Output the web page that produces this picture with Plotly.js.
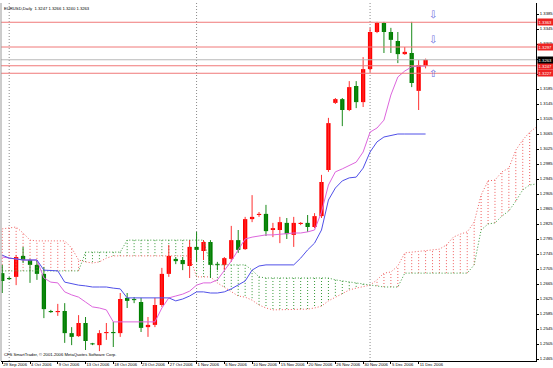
<!DOCTYPE html>
<html><head><meta charset="utf-8">
<script src="https://cdn.plot.ly/plotly-3.0.1.min.js"></script>
<style>html,body{margin:0;padding:0;background:#fff;}#chart{width:553px;height:368px;}</style>
</head><body><div id="chart"></div>
<script>
// ---- data (EURUSD daily) ----
const openP  = [1.2694,1.2681,1.2684,1.2740,1.2729,1.2716,1.2692,1.2593,1.2590,1.2593,
                1.2534,1.2526,1.2561,1.2506,1.2502,1.2534,1.2537,1.2534,1.2628,1.2624,
                1.2617,1.2550,1.2556,1.2609,1.2692,1.2732,1.2729,1.2713,1.2764,1.2753,
                1.2777,1.2718,1.2716,1.2732,1.2782,1.2758,1.2838,1.2849,1.2852,1.2809,
                1.2809,1.2828,1.2796,1.2825,1.2828,1.2817,1.2846,1.2969,1.3148,1.3158,
                1.3129,1.3193,1.3150,1.3238,1.3337,1.3361,1.3337,1.3313,1.3278,1.3281,
                1.3180,1.3247];
const highP  = [1.2716,1.2684,1.2742,1.2764,1.2732,1.2729,1.2710,1.2596,1.2612,1.2614,
                1.2550,1.2582,1.2577,1.2508,1.2542,1.2561,1.2564,1.2641,1.2641,1.2630,
                1.2628,1.2577,1.2628,1.2708,1.2769,1.2737,1.2737,1.2782,1.2804,1.2782,
                1.2782,1.2724,1.2737,1.2820,1.2809,1.2844,1.2902,1.2857,1.2876,1.2828,
                1.2844,1.2841,1.2844,1.2830,1.2849,1.2854,1.2956,1.3108,1.3161,1.3161,
                1.3206,1.3206,1.3270,1.3348,1.3364,1.3364,1.3348,1.3337,1.3297,1.3364,
                1.3262,1.3266];
const lowP   = [1.2641,1.2676,1.2662,1.2721,1.2668,1.2676,1.2574,1.2588,1.2580,1.2508,
                1.2502,1.2524,1.2489,1.2502,1.2486,1.2516,1.2497,1.2524,1.2601,1.2614,
                1.2537,1.2524,1.2550,1.2604,1.2684,1.2718,1.2702,1.2681,1.2724,1.2729,
                1.2681,1.2702,1.2702,1.2724,1.2748,1.2756,1.2830,1.2844,1.2793,1.2790,
                1.2774,1.2785,1.2764,1.2822,1.2804,1.2814,1.2841,1.2964,1.3145,1.3086,
                1.3126,1.3134,1.3137,1.3230,1.3334,1.3281,1.3281,1.3254,1.3276,1.3190,
                1.3129,1.3240];
const closeP = [1.2673,1.2678,1.2737,1.2729,1.2716,1.2692,1.2598,1.2590,1.2593,1.2534,
                1.2524,1.2561,1.2513,1.2504,1.2534,1.2537,1.2534,1.2625,1.2620,1.2622,
                1.2548,1.2556,1.2609,1.2692,1.2740,1.2726,1.2718,1.2764,1.2756,1.2777,
                1.2716,1.2716,1.2734,1.2782,1.2756,1.2838,1.2844,1.2852,1.2806,1.2814,
                1.2830,1.2798,1.2828,1.2828,1.2817,1.2846,1.2937,1.3094,1.3158,1.3129,
                1.3190,1.3150,1.3238,1.3337,1.3361,1.3337,1.3316,1.3278,1.3284,1.3201,
                1.3249,1.3263];
const tenkan = [1.2737,1.2734,1.2732,1.2729,1.2729,1.2729,1.2681,1.2670,1.2668,1.2644,
                1.2636,1.2630,1.2617,1.2604,1.2601,1.2596,1.2564,1.2564,1.2564,1.2564,
                1.2564,1.2564,1.2564,1.2601,1.2628,1.2633,1.2638,1.2646,1.2662,1.2668,
                1.2668,1.2676,1.2702,1.2726,1.2756,1.2785,1.2790,1.2793,1.2796,1.2796,
                1.2798,1.2801,1.2801,1.2801,1.2804,1.2809,1.2857,1.2929,1.2964,1.2972,
                1.2982,1.2990,1.3017,1.3070,1.3081,1.3102,1.3169,1.3217,1.3233,1.3244,
                1.3246,1.3246];
const kijun  = [1.2742,1.2734,1.2732,1.2729,1.2729,1.2729,1.2702,1.2700,1.2700,1.2670,
                1.2665,1.2662,1.2660,1.2657,1.2657,1.2657,1.2654,1.2652,1.2628,1.2628,
                1.2628,1.2628,1.2628,1.2628,1.2628,1.2620,1.2625,1.2633,1.2644,1.2644,
                1.2641,1.2641,1.2644,1.2652,1.2662,1.2673,1.2702,1.2713,1.2716,1.2716,
                1.2716,1.2716,1.2716,1.2734,1.2756,1.2774,1.2809,1.2889,1.2921,1.2940,
                1.2948,1.2950,1.2974,1.3017,1.3044,1.3057,1.3060,1.3065,1.3065,1.3065,
                1.3065,1.3065];
// cloud spans (bars 0..77, extending past the last candle)
const spanRed   = [1.2812,1.2814,1.2817,1.2801,1.2782,1.2780,1.2780,1.2780,1.2780,1.2780,
                   1.2761,1.2729,1.2724,1.2721,1.2724,1.2734,1.2740,1.2740,1.2740,1.2740,
                   1.2740,1.2740,1.2740,1.2740,1.2740,1.2740,1.2740,1.2740,1.2684,1.2684,
                   1.2684,1.2668,1.2657,1.2644,1.2633,1.2630,1.2622,1.2609,1.2601,1.2596,
                   1.2596,1.2596,1.2596,1.2596,1.2598,1.2601,1.2606,1.2620,1.2630,1.2638,
                   1.2649,1.2654,1.2657,1.2662,1.2676,1.2694,1.2697,1.2713,1.2748,1.2750,
                   1.2750,1.2753,1.2756,1.2758,1.2769,1.2790,1.2798,1.2804,1.2830,1.2902,
                   1.2940,1.2942,1.2964,1.2974,1.3022,1.3049,1.3070,1.3084];
const spanGreen = [1.2700,1.2700,1.2700,1.2700,1.2700,1.2700,1.2700,1.2700,1.2700,1.2700,
                   1.2700,1.2700,1.2750,1.2750,1.2750,1.2750,1.2750,1.2750,1.2782,1.2782,
                   1.2782,1.2782,1.2782,1.2782,1.2782,1.2782,1.2782,1.2782,1.2782,1.2782,
                   1.2716,1.2716,1.2716,1.2716,1.2716,1.2716,1.2702,1.2684,1.2681,1.2681,
                   1.2681,1.2681,1.2681,1.2681,1.2681,1.2681,1.2681,1.2681,1.2676,1.2673,
                   1.2670,1.2668,1.2665,1.2662,1.2660,1.2657,1.2657,1.2657,1.2694,1.2694,
                   1.2694,1.2694,1.2694,1.2694,1.2694,1.2694,1.2694,1.2694,1.2716,1.2809,
                   1.2825,1.2828,1.2846,1.2860,1.2886,1.2916,1.2929,1.2932];
const dateLabels = ['29 Sep 2006','4 Oct 2006','9 Oct 2006','13 Oct 2006','18 Oct 2006','23 Oct 2006',
                    '27 Oct 2006','1 Nov 2006','6 Nov 2006','10 Nov 2006','15 Nov 2006','20 Nov 2006',
                    '26 Nov 2006','30 Nov 2006','5 Dec 2006','11 Dec 2006'];
const dateLabelBars = [0,4,8,12,16,20,24,28,32,36,40,44,48,52,56,60];
const separatorBars = [1,28,53];
const priceTicks = [1.2465,1.2505,1.2545,1.2585,1.2625,1.2665,1.2705,1.2745,1.2785,1.2825,1.2865,1.2905,
                    1.2945,1.2985,1.3025,1.3065,1.3105,1.3145,1.3185,1.3225,1.3265,1.3305,1.3345,1.3385];
const levelLines = [1.3363,1.3297,1.3247,1.3227];
const bidPrice = 1.3263;
const arrowsDown = [1.3363,1.3297];
const arrowsUp = [1.3247];
const arrowBar = 62;
const titleText = 'EURUSD,Daily  1.3247 1.3266 1.3240 1.3263';
const copyText = 'CFS SmartTrader, \u00a9 2001-2006 MetaQuotes Software Corp.';

// ---- build traces ----
const FONT = 'Liberation Sans, Arial, sans-serif';
const idx = openP.map((_, i) => i);
const RED = '#ff0000', GREEN = '#008000';
const CRED = '#f06060', CGREEN = '#3a9a3a';

const hatchR = {x: [], y: []}, hatchG = {x: [], y: []};
spanRed.forEach((r, i) => {
  const g = spanGreen[i];
  const t = r >= g ? hatchR : hatchG;
  t.x.push(i, i, null); t.y.push(g, r, null);
});
const cloudX = spanRed.map((_, i) => i);

const wickUp = {x: [], y: []}, wickDn = {x: [], y: []};
const bodyBase = [], bodyH = [], bodyCol = [];
idx.forEach(i => {
  const up = closeP[i] >= openP[i];
  const w = up ? wickUp : wickDn;
  w.x.push(i, i, null); w.y.push(lowP[i], highP[i], null);
  const lo = Math.min(openP[i], closeP[i]);
  const h = Math.max(Math.abs(closeP[i] - openP[i]), 0.00028);
  bodyBase.push(lo); bodyH.push(h); bodyCol.push(up ? RED : GREEN);
});

const traces = [
  {type: 'scatter', mode: 'lines', x: hatchR.x, y: hatchR.y, line: {color: CRED, width: 1, dash: '1px,2px'}, hoverinfo: 'skip', connectgaps: false},
  {type: 'scatter', mode: 'lines', x: hatchG.x, y: hatchG.y, line: {color: CGREEN, width: 1, dash: '1px,2px'}, hoverinfo: 'skip', connectgaps: false},
  {type: 'scatter', mode: 'lines', x: cloudX, y: spanRed, line: {color: CRED, width: 1, dash: '1px,2px'}, hoverinfo: 'skip'},
  {type: 'scatter', mode: 'lines', x: cloudX, y: spanGreen, line: {color: CGREEN, width: 1, dash: '1px,2px'}, hoverinfo: 'skip'},
  {type: 'scatter', mode: 'lines', x: wickUp.x, y: wickUp.y, line: {color: '#ff3030', width: 1}, hoverinfo: 'skip', connectgaps: false},
  {type: 'scatter', mode: 'lines', x: wickDn.x, y: wickDn.y, line: {color: '#1a8a1a', width: 1}, hoverinfo: 'skip', connectgaps: false},
  {type: 'bar', x: idx, y: bodyH, base: bodyBase, width: 0.62, marker: {color: bodyCol, line: {width: 0}}, hoverinfo: 'skip'},
  {type: 'scatter', mode: 'lines', x: idx, y: tenkan, line: {color: '#dd66dd', width: 1}, hoverinfo: 'skip'},
  {type: 'scatter', mode: 'lines', x: idx, y: kijun, line: {color: '#5050e8', width: 1}, hoverinfo: 'skip'}
];

// ---- shapes & annotations ----
const shapes = [];
separatorBars.forEach(b => shapes.push({type: 'line', xref: 'x', yref: 'paper', x0: b, x1: b, y0: 0, y1: 1,
  line: {color: '#8a8a8a', width: 1, dash: '1px,2px'}, layer: 'below'}));
levelLines.forEach(p => shapes.push({type: 'line', xref: 'paper', yref: 'y', x0: 0, x1: 1, y0: p, y1: p,
  line: {color: '#f07878', width: 1}}));
shapes.push({type: 'line', xref: 'paper', yref: 'y', x0: 0, x1: 1, y0: bidPrice, y1: bidPrice, line: {color: '#b8b8b8', width: 1}});
shapes.push({type: 'line', xref: 'paper', yref: 'paper', x0: 0, x1: 0, y0: 0, y1: 1, line: {color: '#9a9a9a', width: 1}});

const annotations = [];
const boxFont = {family: FONT, size: 4.2, color: '#ffffff'};
levelLines.forEach(p => annotations.push({xref: 'paper', yref: 'y', x: 1, y: p, xanchor: 'left', yanchor: 'middle', xshift: 1,
  text: p.toFixed(4), showarrow: false, bgcolor: '#ee2222', font: boxFont, borderpad: 0.6}));
annotations.push({xref: 'paper', yref: 'y', x: 1, y: bidPrice, xanchor: 'left', yanchor: 'middle', xshift: 1,
  text: bidPrice.toFixed(4), showarrow: false, bgcolor: '#000000', font: boxFont, borderpad: 0.6});
arrowsDown.forEach(p => annotations.push({xref: 'x', yref: 'y', x: arrowBar, y: p, yanchor: 'bottom', xanchor: 'center',
  text: '\u21e9', showarrow: false, font: {family: 'DejaVu Sans', size: 10, color: '#6b6be0'}}));
arrowsUp.forEach(p => annotations.push({xref: 'x', yref: 'y', x: arrowBar, y: p, yanchor: 'top', xanchor: 'center',
  text: '\u21e7', showarrow: false, font: {family: 'DejaVu Sans', size: 10, color: '#6b6be0'}}));
annotations.push({xref: 'paper', yref: 'paper', x: 0, y: 1, xanchor: 'left', yanchor: 'top', xshift: 1, yshift: -1,
  text: titleText, showarrow: false, font: {family: FONT, size: 4.2, color: '#000'}});
annotations.push({xref: 'paper', yref: 'paper', x: 0, y: 0, xanchor: 'left', yanchor: 'bottom', xshift: 1, yshift: 2,
  text: copyText, showarrow: false, font: {family: FONT, size: 4.2, color: '#000'}});

const layout = {
  width: 553, height: 368,
  margin: {l: 1, r: 17, t: 3, b: 7, pad: 0},
  paper_bgcolor: '#ffffff', plot_bgcolor: '#ffffff',
  showlegend: false,
  xaxis: {range: [-0.18, 76.91], tickvals: dateLabelBars, ticktext: dateLabels, ticklabelposition: 'outside right',
    tickangle: 0, ticklabelstandoff: -1,
    ticks: 'outside', ticklen: 2, tickcolor: '#000', tickwidth: 1, showgrid: false, zeroline: false,
    showline: true, linecolor: '#000', linewidth: 1, tickfont: {family: FONT, size: 4.2, color: '#000'}, fixedrange: true},
  yaxis: {side: 'right', range: [1.245967, 1.341433], tickvals: priceTicks, ticktext: priceTicks.map(v => v.toFixed(4)),
    ticks: 'outside', ticklen: 2, tickcolor: '#000', tickwidth: 1, showgrid: false, zeroline: false,
    showline: true, linecolor: '#000', linewidth: 1, tickfont: {family: FONT, size: 4.2, color: '#000'}, fixedrange: true},
  shapes: shapes,
  annotations: annotations
};

Plotly.newPlot('chart', traces, layout, {staticPlot: true, displayModeBar: false});
</script>
</body></html>
